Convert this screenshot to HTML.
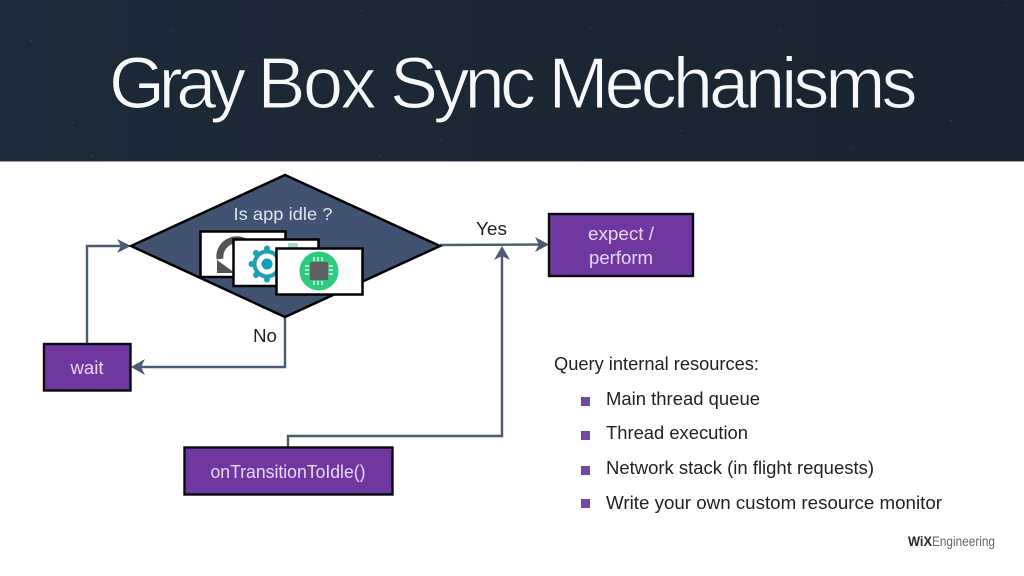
<!DOCTYPE html>
<html>
<head>
<meta charset="utf-8">
<style>
html,body{margin:0;padding:0;background:#fff;width:1024px;height:576px;overflow:hidden}
svg{display:block}
text{font-family:"Liberation Sans",sans-serif}
</style>
</head>
<body>
<svg width="1024" height="576" viewBox="0 0 1024 576" xmlns="http://www.w3.org/2000/svg">
<defs>
<linearGradient id="bg" x1="0" x2="1" y1="0" y2="0"><stop offset="0" stop-color="#1d2a39"/><stop offset="1" stop-color="#1a2430"/></linearGradient>
</defs>
<rect width="1024" height="576" fill="#fff"/>
<rect width="1024" height="162" fill="url(#bg)"/>
<g fill="#fff" opacity=".1">
<rect x="95" y="75" width="2" height="1"/><rect x="72" y="122" width="2" height="1"/><rect x="250" y="58" width="2" height="1"/>
<rect x="360" y="10" width="2" height="1"/><rect x="440" y="140" width="2" height="1"/><rect x="378" y="156" width="3" height="1"/>
<rect x="90" y="156" width="3" height="1"/><rect x="170" y="30" width="2" height="1"/><rect x="590" y="28" width="2" height="1"/>
<rect x="680" y="130" width="2" height="1"/><rect x="780" y="30" width="2" height="1"/><rect x="950" y="120" width="2" height="1"/>
<rect x="1005" y="5" width="2" height="1"/><rect x="850" y="148" width="2" height="1"/><rect x="30" y="40" width="2" height="1"/>
</g>
<rect y="161" width="1024" height="1" fill="#9aa0a6"/>
<g font-size="72" fill="#f7f8f9" stroke="#1b2635" stroke-width="1.100">
<text x="109" y="108" textLength="137" lengthAdjust="spacing">Gray</text>
<text x="257.500" y="108" textLength="119" lengthAdjust="spacing">Box</text>
<text x="390" y="108" textLength="146" lengthAdjust="spacing">Sync</text>
<text x="548.500" y="108" textLength="369" lengthAdjust="spacing">Mechanisms</text>
</g>

<!-- connectors -->
<g fill="none" stroke="#4a5a70" stroke-width="2.400">
<path d="M87 343V246H128"/>
<path d="M285 317V367H133"/>
<path d="M288 447V436H502V248"/>
<path d="M440 245L546 244.500"/>
</g>
<g fill="#4a5a70">
<path d="M131 246L117 239L121 246L117 253Z"/>
<path d="M131 367L145 359L141 367L145 375Z"/>
<path d="M502 246L494 260L502 256L510 260Z"/>
<path d="M549 244.500L535 237L539 244.500L535 252Z"/>
</g>

<!-- diamond -->
<polygon points="285,175 131,246 285,317 440,246" fill="#415370" stroke="#000" stroke-width="2.500"/>
<text x="283" y="220" font-size="17.500" fill="#dfe4ea" text-anchor="middle" textLength="99" lengthAdjust="spacingAndGlyphs">Is app idle ?</text>

<!-- card 1 -->
<rect x="200.500" y="231.500" width="85" height="45.500" fill="#fff" stroke="#000" stroke-width="2.500"/>
<path d="M220 259A17 17 0 0 1 250 246" fill="none" stroke="#555" stroke-width="7"/>
<path d="M217 260V273H235Z" fill="#555"/>
<!-- card 2 -->
<rect x="233.500" y="239.500" width="85" height="46.500" fill="#fff" stroke="#000" stroke-width="2.500"/>
<circle cx="267" cy="264" r="12.500" fill="none" stroke="#1d9fb4" stroke-width="4"/>
<circle cx="267" cy="264" r="5.500" fill="#0e9fb8"/>
<g fill="#1d9fb4">
<circle cx="267" cy="248.500" r="3"/><circle cx="267" cy="279.500" r="3"/><circle cx="251.500" cy="264" r="3"/>
<circle cx="256" cy="253" r="3"/><circle cx="278" cy="253" r="3"/><circle cx="256" cy="275" r="3"/><circle cx="278" cy="275" r="3"/>
</g>
<rect x="288" y="243" width="10" height="5" fill="#a8dcd0"/>
<!-- card 3 -->
<rect x="276.500" y="248.500" width="86" height="46" fill="#fff" stroke="#000" stroke-width="2.500"/>
<circle cx="319" cy="271" r="19.500" fill="#2dcb7d"/>
<rect x="310" y="262" width="18" height="18" fill="#606060"/>
<g stroke="#e6f5ec" stroke-width="1.500">
<path d="M314 257V261M318 257V261M322 257V261M314 281V285M318 281V285M322 281V285M305 266H309M305 270H309M305 274H309M329 266H333M329 270H333M329 274H333"/>
</g>

<!-- boxes -->
<g fill="#6f38a1" stroke="#0a0a0a" stroke-width="2.400">
<rect x="549" y="214" width="144" height="62"/>
<rect x="44" y="344" width="86.500" height="46.500"/>
<rect x="184.500" y="447.500" width="208" height="47"/>
</g>
<g fill="#e6daf0" font-size="18.500" text-anchor="middle">
<text x="621" y="240" textLength="66" lengthAdjust="spacingAndGlyphs">expect /</text>
<text x="621" y="264" textLength="64" lengthAdjust="spacingAndGlyphs">perform</text>
<text x="87" y="374" textLength="33" lengthAdjust="spacingAndGlyphs">wait</text>
<text x="288" y="478" textLength="155" lengthAdjust="spacingAndGlyphs">onTransitionToIdle()</text>
</g>

<!-- labels -->
<g fill="#222" font-size="18.500">
<text x="476" y="235" textLength="31" lengthAdjust="spacingAndGlyphs">Yes</text>
<text x="253" y="342" textLength="24" lengthAdjust="spacingAndGlyphs">No</text>
<text x="554" y="370" textLength="205" lengthAdjust="spacingAndGlyphs">Query internal resources:</text>
<text x="606" y="405" textLength="154" lengthAdjust="spacingAndGlyphs">Main thread queue</text>
<text x="606" y="439" textLength="142" lengthAdjust="spacingAndGlyphs">Thread execution</text>
<text x="606" y="474" textLength="268" lengthAdjust="spacingAndGlyphs">Network stack (in flight requests)</text>
<text x="606" y="509" textLength="336" lengthAdjust="spacingAndGlyphs">Write your own custom resource monitor</text>
</g>
<g fill="#6f4aa0">
<rect x="581" y="397" width="9" height="9"/>
<rect x="581" y="431" width="9" height="9"/>
<rect x="581" y="466" width="9" height="9"/>
<rect x="581" y="499" width="9" height="9"/>
</g>

<!-- logo -->
<text x="908" y="546" font-size="13.500" font-weight="bold" fill="#2a2a2a" textLength="24" lengthAdjust="spacingAndGlyphs">WiX</text>
<text x="932" y="546" font-size="13.500" fill="#666" textLength="63" lengthAdjust="spacingAndGlyphs">Engineering</text>
</svg>
</body>
</html>
